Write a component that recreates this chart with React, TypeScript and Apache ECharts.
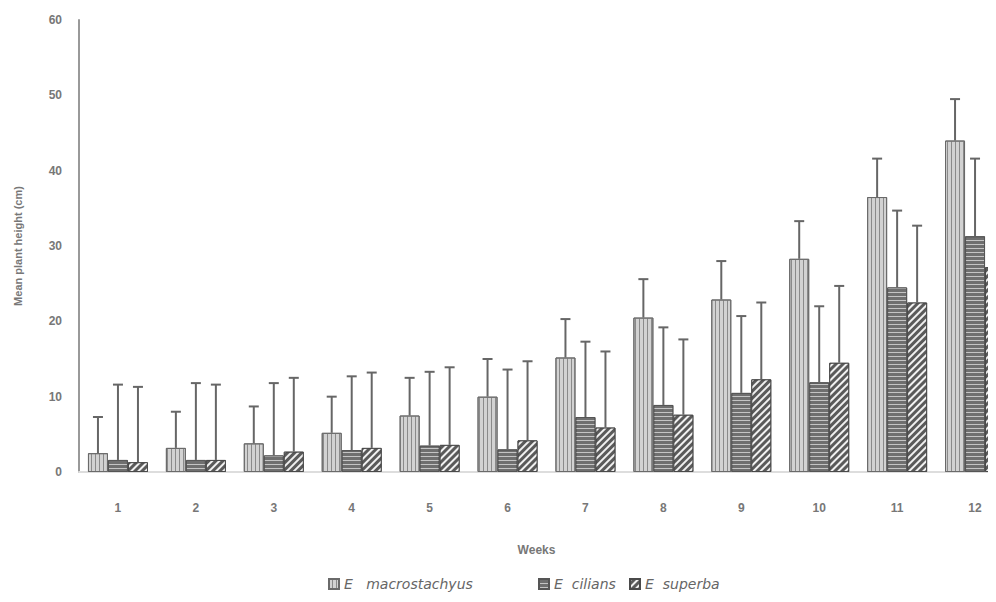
import React, { useEffect, useRef } from "react";
import * as echarts from "echarts";

const weeks = ["1", "2", "3", "4", "5", "6", "7", "8", "9", "10", "11", "12"];
const seriesNames = ["E   macrostachyus", "E  cilians", "E  superba"];
const macro = [2.5, 3.2, 3.8, 5.2, 7.5, 10, 15.2, 20.5, 22.9, 28.3, 36.5, 44];
const macroErr = [4.8, 4.8, 4.9, 4.8, 5, 5, 5.1, 5.1, 5.1, 5, 5.1, 5.5];
const cilians = [1.6, 1.6, 2.2, 2.9, 3.5, 3, 7.3, 8.9, 10.5, 11.9, 24.5, 31.3];
const ciliansErr = [10, 10.2, 9.6, 9.8, 9.8, 10.6, 10, 10.3, 10.2, 10.1, 10.2, 10.3];
const superba = [1.3, 1.6, 2.7, 3.2, 3.6, 4.2, 5.9, 7.6, 12.3, 14.5, 22.5, 27.2];
const superbaErr = [10, 10, 9.8, 10, 10.3, 10.5, 10.1, 10, 10.2, 10.2, 10.2, 10];

const BAR_W = 20;
const FONT = "Liberation Sans, Arial, sans-serif";
const GREY = "#777";
const LEGEND_LEFT = [323, 533, 624];

export default function App() {
  const ref = useRef<HTMLDivElement>(null);
  useEffect(() => {
    if (!ref.current) return;
    const chart = echarts.init(ref.current, null, { renderer: "svg" });
    const means = [macro, cilians, superba];
    const errs = [macroErr, ciliansErr, superbaErr];
    const styles = [
      {
        color: "#d2d2d2",
        borderColor: "#6a6a6a",
        borderWidth: 1,
        decal: {
          symbol: "rect",
          symbolSize: 1,
          dashArrayX: [1, 0],
          dashArrayY: [1, 3],
          rotation: Math.PI / 2,
          color: "#8a8a8a",
        },
      },
      {
        color: "#6f6f6f",
        borderColor: "#555",
        borderWidth: 1,
        decal: {
          symbol: "rect",
          symbolSize: 1,
          dashArrayX: [1, 0],
          dashArrayY: [1, 3],
          rotation: 0,
          color: "#c4c4c4",
        },
      },
      {
        color: "#5a5a5a",
        borderColor: "#4a4a4a",
        borderWidth: 1,
        decal: {
          symbol: "rect",
          symbolSize: 1,
          dashArrayX: [1, 0],
          dashArrayY: [2, 3],
          rotation: -Math.PI / 4,
          color: "#f0f0f0",
        },
      },
    ];
    const barSeries = seriesNames.map((name, s) => ({
      name,
      type: "bar",
      data: means[s],
      barWidth: BAR_W,
      barGap: "0%",
      itemStyle: styles[s],
      z: 2,
    }));
    const errSeries = seriesNames.map((name, s) => ({
      name: name + " err",
      type: "custom",
      z: 3,
      silent: true,
      encode: { x: 0, y: [1, 2] },
      data: weeks.map((w, i) => [i, means[s][i], means[s][i] + errs[s][i]]),
      renderItem: (params: any, api: any) => {
        const idx = api.value(0);
        const lo = api.coord([idx, api.value(1)]);
        const hi = api.coord([idx, api.value(2)]);
        const x = lo[0] + (s - 1) * BAR_W;
        const style = { stroke: "#666", lineWidth: 2 };
        return {
          type: "group",
          children: [
            { type: "line", shape: { x1: x, y1: lo[1], x2: x, y2: hi[1] }, style },
            { type: "line", shape: { x1: x - 5, y1: hi[1], x2: x + 5, y2: hi[1] }, style },
          ],
        };
      },
    }));
    const legends = seriesNames.map((name, s) => ({
      data: [name],
      left: LEGEND_LEFT[s],
      top: 572,
      icon: "rect",
      itemWidth: 10,
      itemHeight: 10,
      textStyle: { fontFamily: "DejaVu Sans, sans-serif", fontStyle: "italic", fontSize: 14, color: "#666" },
    }));
    chart.setOption({
      animation: false,
      backgroundColor: "#fff",
      grid: { left: 79, top: 20, right: 6, bottom: 130 },
      legend: legends,
      xAxis: {
        type: "category",
        data: weeks,
        axisLine: { show: true, lineStyle: { color: "#ddd", width: 2 } },
        axisTick: { show: false },
        axisLabel: { margin: 30, color: GREY, fontWeight: "bold", fontSize: 12, fontFamily: FONT },
        name: "Weeks",
        nameLocation: "middle",
        nameGap: 72,
        nameTextStyle: { color: GREY, fontWeight: "bold", fontSize: 12, fontFamily: FONT, padding: [0, 20, 0, 0] },
      },
      yAxis: {
        type: "value",
        min: 0,
        max: 60,
        interval: 10,
        axisLine: { show: true, lineStyle: { color: "#999", width: 2 } },
        axisTick: { show: false },
        splitLine: { show: false },
        axisLabel: { margin: 17, color: GREY, fontWeight: "bold", fontSize: 12, fontFamily: FONT },
        name: "Mean plant height (cm)",
        nameLocation: "middle",
        nameGap: 56,
        nameTextStyle: { color: GREY, fontWeight: "bold", fontSize: 11, fontFamily: FONT },
      },
      series: [...barSeries, ...errSeries],
    });
    return () => chart.dispose();
  }, []);
  return (
    <div style={{ width: 996, height: 602, margin: -8, overflow: "hidden", position: "relative" }}>
      <div ref={ref} style={{ width: 1020, height: 602 }} />
    </div>
  );
}
